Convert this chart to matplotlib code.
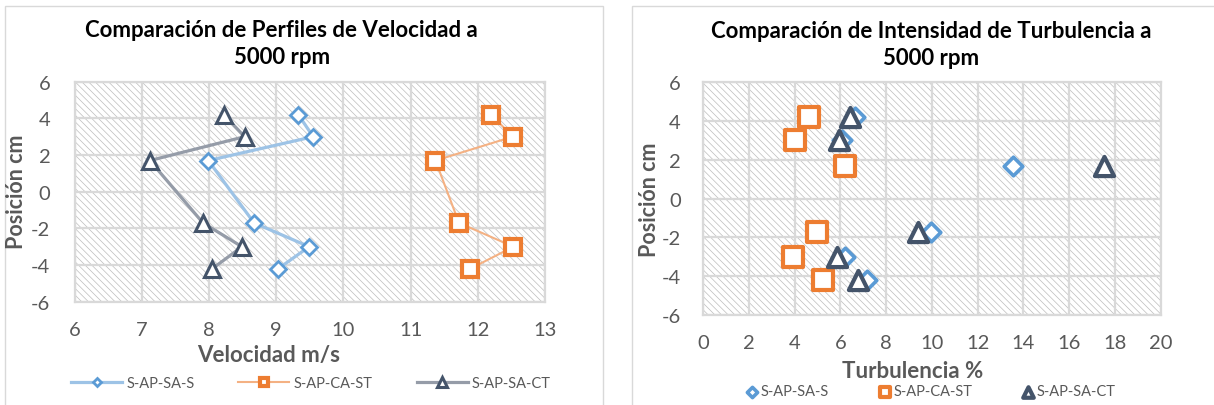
import matplotlib
matplotlib.use("Agg")
import matplotlib.pyplot as plt
from matplotlib.patches import Rectangle

plt.rcParams['font.family'] = ['Lato', 'DejaVu Sans']
plt.rcParams['hatch.linewidth'] = 0.5

# ---------------- data ----------------
posicion = [4.2, 3.0, 1.7, -1.7, -3.0, -4.2]

vel_s = [9.33, 9.55, 7.99, 8.67, 9.49, 9.03]
vel_st = [12.20, 12.52, 11.37, 11.72, 12.53, 11.89]
vel_ct = [8.22, 8.53, 7.12, 7.91, 8.49, 8.05]

turb_s = [6.63, 6.09, 13.57, 9.98, 6.19, 7.18]
turb_st = [4.63, 4.00, 6.20, 4.99, 3.94, 5.24]
turb_ct = [6.41, 5.93, 17.51, 9.40, 5.87, 6.77]

series_names = ['S-AP-SA-S', 'S-AP-CA-ST', 'S-AP-SA-CT']

vel_xticks = [6, 7, 8, 9, 10, 11, 12, 13]
turb_xticks = [0, 2, 4, 6, 8, 10, 12, 14, 16, 18, 20]
yticks = [-6, -4, -2, 0, 2, 4, 6]

title_left = 'Comparación de Perfiles de Velocidad a\n5000 rpm'
title_right = 'Comparación de Intensidad de Turbulencia a\n5000 rpm'

# ---------------- styling ----------------
W, H = 1214, 406
fig = plt.figure(figsize=(W / 100, H / 100), dpi=100)

BLUE = '#5B9BD5'
ORANGE = '#ED7D31'
DARK = '#44546A'
BLUE_L = '#9DC3E6'
ORANGE_L = '#F4B183'
DARK_L = '#959CA8'
GRID = '#D9D9D9'
TXT = '#595959'


def px_axes(x0, y0, x1, y1):
    return fig.add_axes([x0 / W, 1 - y1 / H, (x1 - x0) / W, (y1 - y0) / H])


def style(ax, xlim, xt, xpad, ypad):
    ax.set_xlim(*xlim)
    ax.set_ylim(-6, 6)
    ax.set_xticks(xt)
    ax.set_yticks(yticks)
    ax.set_xticklabels([str(v) for v in xt])
    ax.set_yticklabels([str(v) for v in yticks])
    ax.add_patch(Rectangle((0, 0), 1, 1, transform=ax.transAxes, facecolor='white',
                           edgecolor='#BDBDBD', hatch='\\\\\\\\\\', linewidth=0, zorder=0))
    ax.grid(True, color=GRID, linewidth=1.6, zorder=1)
    ax.set_axisbelow(False)
    for s in ax.spines.values():
        s.set_color(GRID)
        s.set_linewidth(1.6)
    ax.tick_params(length=0, labelsize=14.5, colors=TXT)
    ax.tick_params(axis='x', pad=xpad)
    ax.tick_params(axis='y', pad=ypad)


# chart borders
fig.add_artist(Rectangle((4.5 / W, -0.1), (603 - 4.5) / W, 1.1 - 6.7 / H,
                         transform=fig.transFigure, fill=False, edgecolor=GRID, linewidth=1))
fig.add_artist(Rectangle((632 / W, -0.1), 0.5, 1.1 - 7.3 / H,
                         transform=fig.transFigure, fill=False, edgecolor=GRID, linewidth=1))

# ---------------- left chart ----------------
ax1 = px_axes(74.6, 82.7, 545, 302.7)
style(ax1, (6, 13), vel_xticks, xpad=14, ypad=17.5)
ax1.plot(vel_s, posicion, color=BLUE_L, lw=2.3, marker='D', ms=8, mfc='white',
         mec=BLUE, mew=2.0, label=series_names[0], zorder=3)
ax1.plot(vel_st, posicion, color=ORANGE_L, lw=1.5, marker='s', ms=11, mfc='white',
         mec=ORANGE, mew=3.0, label=series_names[1], zorder=3)
ax1.plot(vel_ct, posicion, color=DARK_L, lw=2.3, marker='^', ms=12, mfc='white',
         mec=DARK, mew=2.2, label=series_names[2], zorder=3)

fig.text(281.7 / W, 1 - 44 / H, title_left, ha='center', va='center', fontsize=16,
         fontweight='bold', color='black', linespacing=1.3)
fig.text(269 / W, 1 - 356 / H, 'Velocidad m/s', ha='center', va='center',
         fontsize=16, fontweight='bold', color=TXT)
fig.text(17 / W, 1 - 192 / H, 'Posición cm', ha='center', va='center', rotation=90,
         fontsize=15.5, fontweight='bold', color=TXT)

leg1 = fig.legend(handles=ax1.get_lines(), loc='center', bbox_to_anchor=(311 / W, 1 - 384 / H),
                  ncol=3, frameon=False, fontsize=10.5, handlelength=3.5, handletextpad=0.3,
                  columnspacing=3.0, markerscale=0.55)
for t in leg1.get_texts():
    t.set_color(TXT)

# ---------------- right chart ----------------
ax2 = px_axes(703, 83.3, 1160.6, 316)
style(ax2, (0, 20), turb_xticks, xpad=13.5, ypad=16)
s1 = ax2.scatter(turb_s, posicion, marker='D', s=90, facecolors='white', edgecolors=BLUE,
                 linewidths=2.6, label=series_names[0], zorder=3)
s2 = ax2.scatter(turb_st, posicion, marker='s', s=190, facecolors='white', edgecolors=ORANGE,
                 linewidths=3.0, label=series_names[1], zorder=3)
s3 = ax2.scatter(turb_ct, posicion, marker='^', s=190, facecolors='white', edgecolors=DARK,
                 linewidths=3.0, label=series_names[2], zorder=4)

fig.text(931 / W, 1 - 45 / H, title_right, ha='center', va='center', fontsize=16,
         fontweight='bold', color='black', linespacing=1.3)
fig.text(913 / W, 1 - 371 / H, 'Turbulencia %', ha='center', va='center',
         fontsize=16, fontweight='bold', color=TXT)
fig.text(650 / W, 1 - 200 / H, 'Posición cm', ha='center', va='center', rotation=90,
         fontsize=15.5, fontweight='bold', color=TXT)

leg2 = fig.legend(handles=[s1, s2, s3], loc='center', bbox_to_anchor=(931 / W, 1 - 392.5 / H),
                  ncol=3, frameon=False, fontsize=10.5, handlelength=0.8, handletextpad=0.2,
                  columnspacing=3.4, markerscale=0.55)
for t in leg2.get_texts():
    t.set_color(TXT)

fig.savefig('out.png', dpi=100)
